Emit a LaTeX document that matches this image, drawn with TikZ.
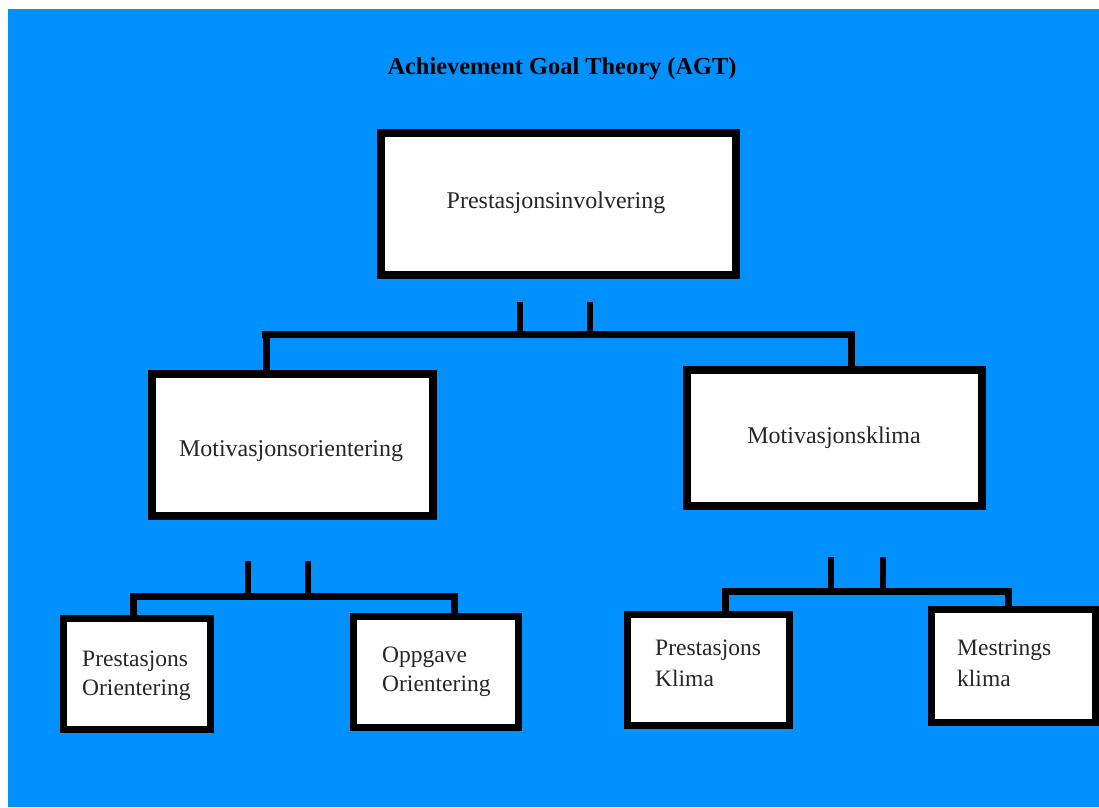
\documentclass[tikz,border=0pt]{standalone}
\usepackage{fontspec}
\setmainfont{Liberation Serif}
\definecolor{bgblue}{RGB}{0,145,255}
\tikzset{
  box/.style={draw=black, fill=white, line width=7.5pt, rectangle, inner sep=0pt, line join=miter},
  conn/.style={draw=black, line width=7pt, line join=miter},
  stub/.style={draw=black, line width=6.5pt},
  lbl/.style={inner sep=0pt, font=\fontsize{24}{28}\selectfont, text=black!85},
  lineword/.style={lbl, font=\fontsize{23.5}{28}\selectfont, anchor=base west},
}
\begin{document}
\begin{tikzpicture}[x=1pt,y=-1pt]
\useasboundingbox (0,0) rectangle (1099,807);
\fill[bgblue] (8,9) rectangle (1099,807);

\node[inner sep=0pt, anchor=base, font=\fontsize{24.4}{28}\selectfont\bfseries] (title) at (562,74) {Achievement Goal Theory (AGT)};

\node[box, minimum width=355pt, minimum height=142pt] (top) at (558.5,204) {};
\node[box, minimum width=281pt, minimum height=142pt] (mo) at (292.5,445) {};
\node[box, minimum width=295pt, minimum height=136pt] (mk) at (834.5,438) {};
\node[box, minimum width=147pt, minimum height=111pt] (po) at (137,674) {};
\node[box, minimum width=165pt, minimum height=111pt] (oo) at (436,672) {};
\node[box, minimum width=162pt, minimum height=111pt] (pk) at (708.5,670) {};
\node[box, minimum width=164pt, minimum height=113pt] (ms) at (1013.5,666) {};

\node[lbl, anchor=base] (topt) at (556,208) {Prestasjonsinvolvering};
\node[lbl, anchor=base] (mot) at (291,456) {Motivasjonsorientering};
\node[lbl, anchor=base] (mkt) at (834,443) {Motivasjonsklima};
\node[lineword] (po1) at (82,666) {Prestasjons};
\node[lineword] (po2) at (82,695) {Orientering};
\node[lineword] (oo1) at (382,662) {Oppgave};
\node[lineword] (oo2) at (382,691) {Orientering};
\node[lineword] (pk1) at (655,655) {Prestasjons};
\node[lineword] (pk2) at (655,686) {Klima};
\node[lineword] (ms1) at (957,655) {Mestrings};
\node[lineword] (ms2) at (957,686) {klima};

% top level connector
\coordinate (t1) at (520,302);
\coordinate (t2) at (590,302);
\coordinate (tl) at (262,334);
\coordinate (tr) at (851,334);
\draw[stub] (t1) -- (t1 |- tl);
\draw[stub] (t2) -- (t2 |- tl);
\draw[conn] (tl) -- (tr) -- (tr |- mk.north);
\draw[conn] (266,334) -- (mo.north -| 266,0);

% lower left connector
\coordinate (l1) at (248,561);
\coordinate (l2) at (308,561);
\coordinate (ll) at (133.5,596);
\coordinate (lr) at (454,596);
\draw[stub] (l1) -- (l1 |- ll);
\draw[stub] (l2) -- (l2 |- ll);
\draw[conn] (po.north -| ll) -- (ll) -- (lr) -- (oo.north -| lr);

% lower right connector
\coordinate (r1) at (831,557);
\coordinate (r2) at (883,557);
\coordinate (rl) at (725,591.5);
\coordinate (rr) at (1008,591.5);
\draw[stub] (r1) -- (r1 |- rl);
\draw[stub] (r2) -- (r2 |- rl);
\draw[conn] (pk.north -| rl) -- (rl) -- (rr) -- (ms.north -| rr);
\end{tikzpicture}
\end{document}
